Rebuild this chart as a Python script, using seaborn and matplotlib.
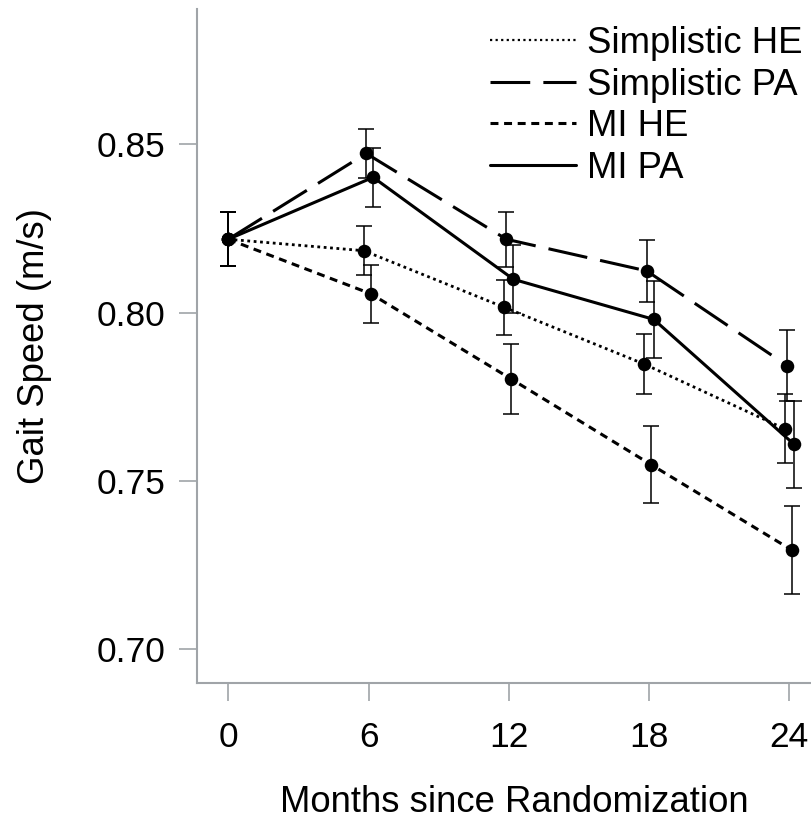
import numpy as np
import pandas as pd
import matplotlib
matplotlib.use("Agg")
import matplotlib.pyplot as plt
import seaborn as sns
from matplotlib.lines import Line2D

# ---- data ----
times = [0, 6, 12, 18, 24]
series_names = ["Simplistic HE", "Simplistic PA", "MI HE", "MI PA"]

simplistic_he = [0.8218, 0.8184, 0.8016, 0.7847, 0.7655]
simplistic_he_err = [0.0080, 0.0073, 0.0082, 0.0090, 0.0103]
simplistic_pa = [0.8218, 0.8473, 0.8218, 0.8124, 0.7843]
simplistic_pa_err = [0.0080, 0.0073, 0.0082, 0.0092, 0.0106]
mi_he = [0.8218, 0.8056, 0.7803, 0.7548, 0.7295]
mi_he_err = [0.0080, 0.0087, 0.0104, 0.0114, 0.0131]
mi_pa = [0.8218, 0.8402, 0.8099, 0.7980, 0.7609]
mi_pa_err = [0.0080, 0.0087, 0.0101, 0.0115, 0.0130]

x_ticks = [0, 6, 12, 18, 24]
y_ticks = [0.70, 0.75, 0.80, 0.85]
x_label = "Months since Randomization"
y_label = "Gait Speed (m/s)"

# ---- styling ----
dodge = {"Simplistic HE": -0.2, "Simplistic PA": -0.1, "MI HE": 0.1, "MI PA": 0.2}
dash_map = {"Simplistic HE": (1.0, 1.3), "Simplistic PA": (13, 4.3),
            "MI HE": (2.6, 1.85), "MI PA": ""}
lw_map = {"Simplistic HE": 2.0, "Simplistic PA": 2.2, "MI HE": 2.2, "MI PA": 2.2}

values = {"Simplistic HE": (simplistic_he, simplistic_he_err),
          "Simplistic PA": (simplistic_pa, simplistic_pa_err),
          "MI HE": (mi_he, mi_he_err),
          "MI PA": (mi_pa, mi_pa_err)}

rows = []
for name in series_names:
    v, e = values[name]
    for t, yv, ev in zip(times, v, e):
        xpos = t + (dodge[name] if t > 0 else 0.0)
        rows.append({"series": name, "month": t, "x": xpos, "speed": yv, "err": ev})
df = pd.DataFrame(rows)

sns.set_theme(style="white")
plt.rcParams["font.family"] = ["Liberation Sans", "DejaVu Sans"]
plt.rcParams["text.color"] = "black"

fig = plt.figure(figsize=(8.12, 8.19), dpi=100)
ax = fig.add_axes([0.2422, 0.1657, 0.7578, 0.8229])

spine_col = "#a0a4a8"

# error bars
for name in series_names:
    d = df[df.series == name]
    ax.errorbar(d["x"], d["speed"], yerr=d["err"], fmt="none", ecolor="black",
                elinewidth=1.1, capsize=6, capthick=1.1, zorder=2)

# lines
for name in series_names:
    d = df[df.series == name]
    sns.lineplot(data=d, x="x", y="speed", color="black", lw=lw_map[name],
                 ax=ax, legend=False, zorder=3, sort=True, dashes=False)
    line = ax.lines[-1]
    if dash_map[name]:
        line.set_dashes(dash_map[name])

sns.scatterplot(data=df, x="x", y="speed", color="black", s=95,
                edgecolor="black", linewidth=0, ax=ax, legend=False, zorder=4)

ax.set_xlim(-1.35, 24.97)
ax.set_ylim(0.6899, 0.8901)
ax.set_xticks(x_ticks)
ax.set_xticklabels([str(t) for t in x_ticks])
ax.set_yticks(y_ticks)
ax.set_yticklabels([f"{t:.2f}" for t in y_ticks])

for s in ["top", "right"]:
    ax.spines[s].set_visible(False)
for s in ["left", "bottom"]:
    ax.spines[s].set_color(spine_col)
    ax.spines[s].set_linewidth(1.5)

ax.tick_params(axis="both", which="major", direction="out", length=13,
               width=1.2, color=spine_col, labelcolor="black", labelsize=25.5,
               bottom=True, left=True)
ax.tick_params(axis="x", pad=14.4)
ax.tick_params(axis="y", pad=9.6)
ax.grid(False)

ax.set_xlabel(x_label, fontsize=26.3, color="black")
ax.set_ylabel(y_label, fontsize=26.3, color="black")
ax.xaxis.set_label_coords(0.517, -0.151)
ax.xaxis.label.set_verticalalignment("top")
ax.yaxis.set_label_coords(-0.235, 0.5)

handles = []
for name in series_names:
    h = Line2D([0], [0], color="black", lw=lw_map[name] if name != "Simplistic HE" else 1.6)
    if dash_map[name]:
        h.set_dashes(dash_map[name] if name != "Simplistic HE" else (1.0, 1.5))
    handles.append(h)
leg = ax.legend(handles, series_names, loc="upper right",
                bbox_to_anchor=(803 / 812, 1 - 26 / 819),
                bbox_transform=fig.transFigure, frameon=False,
                fontsize=26.3, handlelength=2.35, handletextpad=0.32,
                labelspacing=0.18, borderpad=0, borderaxespad=0,
                labelcolor="black")

fig.savefig("out.png", dpi=100)
